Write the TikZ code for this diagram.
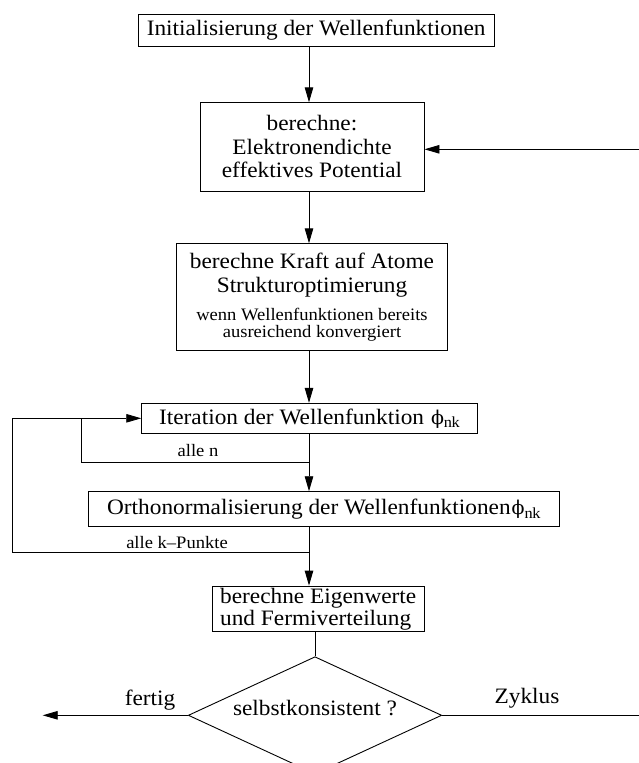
\documentclass[tikz,border=0pt]{standalone}
\usepackage{fontspec}
\setmainfont{Liberation Serif}[FakeStretch=1.06]
\newfontfamily\greekfont{DejaVu Serif}
\usetikzlibrary{arrows.meta,shapes.geometric}
\newcommand\FigBig{\fontsize{22}{23.5}\selectfont}
\newcommand\FigSmall{\fontsize{17.5}{16}\selectfont}
\newcommand\phink{{\greekfont\fontsize{19}{19}\selectfont ϕ}$_{\mathrm{nk}}$}
\tikzset{
  conn/.style={line width=0.9pt},
  arr/.style={conn, -{Triangle[length=15pt,width=8.5pt]}},
  box/.style={draw, line width=0.9pt, inner sep=0pt, align=center, font=\FigBig},
  lbl/.style={inner sep=0pt, anchor=base},
  decision/.style={draw, line width=0.9pt, shape=diamond, aspect=2.16, inner sep=0pt,
    minimum width=253.4pt, minimum height=117.2pt, font=\FigBig, text height=7pt, text depth=7pt}
}
\begin{document}
\begin{tikzpicture}[x=1pt,y=-1pt]
\useasboundingbox (0,0) rectangle (638,763);
\fill[white] (0,0) rectangle (638,763);

\node[box, minimum width=355.7pt, minimum height=31.7pt] (init) at (316.2,30.2)
  {Initialisierung der Wellenfunktionen};
\node[box, minimum width=224pt, minimum height=88.3pt] (dens) at (312,146.9)
  {berechne:\\Elektronendichte\\effektives Potential};
\node[box, minimum width=270.6pt, minimum height=106.3pt] (force) at (312,296.9)
  {berechne Kraft auf Atome\\Strukturoptimierung\\[4.5pt]{\FigSmall wenn Wellenfunktionen bereits}\\[-6.5pt]{\FigSmall ausreichend konvergiert}};
\node[box, minimum width=335.6pt, minimum height=30pt] (iter) at (309.5,418.3)
  {Iteration der Wellenfunktion\hspace{7pt}\phink};
\node[box, minimum width=471pt, minimum height=35pt] (ortho) at (323.8,509.2)
  {Orthonormalisierung der Wellenfunktionen\hspace{1pt}\phink};
\node[box, align=left, font=\fontsize{22}{21.7}\selectfont, minimum width=211.7pt, minimum height=45.7pt] (eigen) at (318.2,608.9)
  {berechne Eigenwerte\\und Fermiverteilung};
\node[decision] (dia) at (315,715.3) {selbstkonsistent ?};

\node[lbl, font=\FigSmall] (lN) at (198,456.7) {alle n};
\node[lbl, font=\FigSmall] (lK) at (177,548.3) {alle k--Punkte};
\node[lbl, font=\FigBig] (lF) at (150,705) {fertig};
\node[lbl, font=\FigBig] (lZ) at (527,703.3) {Zyklus};

\coordinate (ax) at (309,0);
\coordinate (nS) at (309,462.7);
\coordinate (nC) at (81.7,462.7);
\coordinate (kS) at (309,552.7);
\coordinate (kC) at (12,552.7);
\coordinate (fin) at (42.7,715.3);
\coordinate (rB) at (641,715.3);
\coordinate (rT) at (641,149.3);

\draw[arr] (init.south -| ax) -- (dens.north -| ax);
\draw[arr] (dens.south -| ax) -- (force.north -| ax);
\draw[arr] (force.south -| ax) -- (iter.north -| ax);
\draw[arr] (iter.south -| ax) -- (ortho.north -| ax);
\draw[arr] (ortho.south -| ax) -- (eigen.north -| ax);
\draw[conn] (eigen.south -| dia.north) -- (dia.north);

\draw[arr] (kS) -- (kC) |- (iter.west);
\draw[conn] (nS) -- (nC) -- (nC |- iter.west);

\draw[arr] (dia.west) -- (fin);
\draw[arr] (dia.east) -- (rB) -- (rT) -- (rT -| dens.east);
\end{tikzpicture}
\end{document}
